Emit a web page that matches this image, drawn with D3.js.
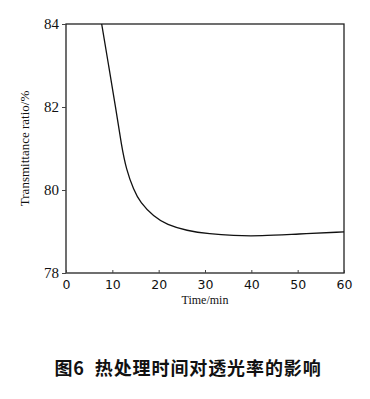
<!DOCTYPE html>
<html>
<head>
<meta charset="utf-8">
<script src="https://cdn.jsdelivr.net/npm/d3@7"></script>
<style>
  body { margin: 0; background: #fff; }
</style>
</head>
<body>
<script>
// Curve (time in min, transmittance in %)
const timeMin = [7.7, 9.2, 10.7, 12.0, 13.0, 14.6, 16.0, 18.9, 21.8, 26.0, 31.0, 36.0, 42.0, 50.0, 60.0];
const transmittance = [84, 83.0, 82.0, 81.05, 80.5, 80.0, 79.7, 79.36, 79.16, 79.02, 78.94, 78.9, 78.89, 78.94, 78.99];
const xTicks = [0, 10, 20, 30, 40, 50, 60];
const yTicks = [78, 80, 82, 84];
const caption = '图6  热处理时间对透光率的影响';

const margin = { top: 24, right: 26, bottom: 126, left: 66 };
const width = 370 - margin.left - margin.right;
const height = 399 - margin.top - margin.bottom;

const svg = d3.select('body').append('svg')
    .attr('width', 370)
    .attr('height', 399);

const g = svg.append('g')
    .attr('transform', `translate(${margin.left},${margin.top})`);

const x = d3.scaleLinear().domain([0, 60]).range([0, width]);
const y = d3.scaleLinear().domain([78, 84]).range([height, 0]);

// frame
g.append('rect')
    .attr('width', width)
    .attr('height', height)
    .attr('fill', 'none')
    .attr('stroke', '#222')
    .attr('stroke-width', 1.3);

// X axis, ticks pointing in
const xAxis = g.append('g')
    .attr('transform', `translate(0,${height})`)
    .call(d3.axisBottom(x).tickValues(xTicks).tickSize(-3).tickPadding(7));
xAxis.select('.domain').remove();
xAxis.selectAll('line').attr('stroke', '#444');
xAxis.selectAll('text')
    .attr('font-family', 'DejaVu Sans')
    .attr('font-size', 12.5)
    .attr('fill', '#111');

// Y axis, ticks pointing out
const yAxis = g.append('g')
    .call(d3.axisLeft(y).tickValues(yTicks).tickFormat(d3.format('d')).tickSize(4).tickPadding(3));
yAxis.select('.domain').remove();
yAxis.selectAll('line').attr('stroke', '#444');
yAxis.selectAll('text')
    .attr('font-family', 'Liberation Serif')
    .attr('font-size', 15)
    .attr('fill', '#111');

// Curve
const pts = timeMin.map((t, i) => [t, transmittance[i]]);
g.append('path')
    .datum(pts)
    .attr('fill', 'none')
    .attr('stroke', '#111')
    .attr('stroke-width', 1.3)
    .attr('d', d3.line()
        .x(d => x(d[0]))
        .y(d => y(d[1]))
        .curve(d3.curveBasis));

// Axis titles
g.append('text')
    .attr('x', width / 2)
    .attr('y', height + 31)
    .attr('text-anchor', 'middle')
    .attr('font-family', 'Liberation Serif')
    .attr('font-size', 12)
    .attr('fill', '#111')
    .text('Time/min');

g.append('text')
    .attr('transform', `translate(-37,${y(81)}) rotate(-90)`)
    .attr('text-anchor', 'middle')
    .attr('font-family', 'Liberation Serif')
    .attr('font-size', 13)
    .attr('fill', '#111')
    .text('Transmittance ratio/%');

// Caption
svg.append('text')
    .attr('x', 188)
    .attr('y', 375)
    .attr('text-anchor', 'middle')
    .attr('font-family', 'Noto Sans CJK SC')
    .attr('font-weight', 'bold')
    .attr('font-size', 18)
    .attr('letter-spacing', 0.9)
    .attr('fill', '#111')
    .attr('xml:space', 'preserve')
    .text(caption);
</script>
</body>
</html>
